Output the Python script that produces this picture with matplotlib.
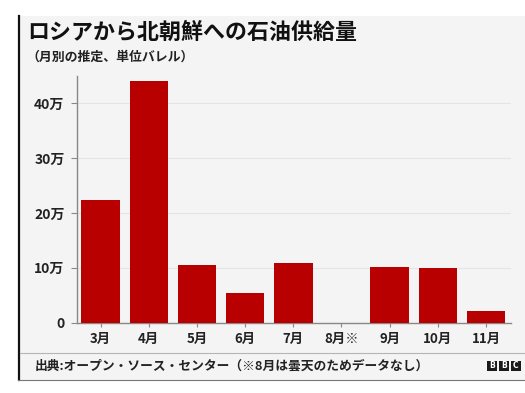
import matplotlib
matplotlib.use("Agg")
import matplotlib.pyplot as plt
from matplotlib.patches import Rectangle
from matplotlib.lines import Line2D
from matplotlib.ticker import FixedLocator

plt.rcParams['font.family'] = ['Noto Sans CJK JP', 'DejaVu Sans']

months = ["3月", "4月", "5月", "6月", "7月", "8月※", "9月", "10月", "11月"]
barrels = [224000, 441000, 106000, 55000, 108000, 0, 102000, 99000, 22000]
ytick_vals = [0, 100000, 200000, 300000, 400000]
ytick_labels = ["0", "10万", "20万", "30万", "40万"]

title = "ロシアから北朝鮮への石油供給量"
subtitle = "（月別の推定、単位バレル）"
source = "出典:オープン・ソース・センター（※8月は曇天のためデータなし）"

W, H = 525, 393
fig = plt.figure(figsize=(W / 100, H / 100), dpi=100)
fig.patch.set_facecolor("white")

def fx(px):
    return px / W

def fy(py):
    return 1 - py / H

bg = "#f4f4f4"
# panel
fig.add_artist(Rectangle((fx(18), fy(380)), fx(525) - fx(18), fy(16) - fy(380),
                         transform=fig.transFigure, facecolor=bg, edgecolor="none", zorder=0))
fig.add_artist(Line2D([fx(19), fx(19)], [fy(16), fy(380)], transform=fig.transFigure,
                      color="#111111", linewidth=1.6, zorder=1))
fig.add_artist(Line2D([fx(18), fx(525)], [fy(380), fy(380)], transform=fig.transFigure,
                      color="#777777", linewidth=0.8, zorder=1))
fig.add_artist(Line2D([fx(20), fx(525)], [fy(353), fy(353)], transform=fig.transFigure,
                      color="#b5b5b5", linewidth=0.8, zorder=1))

ax = fig.add_axes([fx(77), fy(322.7), fx(511) - fx(77), fy(75.7) - fy(322.7)])
ax.set_facecolor(bg)
x = list(range(len(months)))
ax.bar(x, barrels, width=0.8, color="#b80000", zorder=3)
ax.set_xlim(-0.49, 8.52)
ax.set_ylim(0, 450000)

ax.yaxis.set_major_locator(FixedLocator(ytick_vals))
ax.set_yticklabels(ytick_labels, fontsize=10, fontweight="bold", color="#222222")
ax.set_xticks(x)
ax.set_xticklabels(months, fontsize=9.6, fontweight="bold", color="#222222")
ax.tick_params(axis="y", length=4, width=0.8, color="#888888", pad=5)
ax.tick_params(axis="x", length=3, width=0.8, color="#888888", pad=4)

for s in ["top", "right"]:
    ax.spines[s].set_visible(False)
for s in ["left", "bottom"]:
    ax.spines[s].set_color("#888888")
    ax.spines[s].set_linewidth(1.0)

for v in ytick_vals[1:]:
    ax.axhline(v, color="#e4e4e4", linewidth=0.8, zorder=1)

fig.text(fx(27), fy(33), title, fontsize=15.8, fontweight="bold", color="#111111",
         va="center", ha="left")
fig.text(fx(26), fy(57), subtitle, fontsize=9.3, fontweight="bold", color="#222222",
         va="center", ha="left")
fig.text(fx(35), fy(366), source, fontsize=9.2, fontweight="bold", color="#222222",
         va="center", ha="left")

# BBC blocks
for i, letter in enumerate("BBC"):
    x0 = 487 + i * 12
    fig.add_artist(Rectangle((fx(x0), fy(370.5)), fx(9.5), fy(361) - fy(370.5),
                             transform=fig.transFigure, facecolor="#1a1a1a", edgecolor="none", zorder=2))
    fig.text(fx(x0 + 4.75), fy(365.8), letter, fontsize=5.5, fontweight="bold",
             color="white", ha="center", va="center", family="DejaVu Sans", zorder=3)

fig.savefig("out.png", dpi=100, facecolor=fig.get_facecolor())
